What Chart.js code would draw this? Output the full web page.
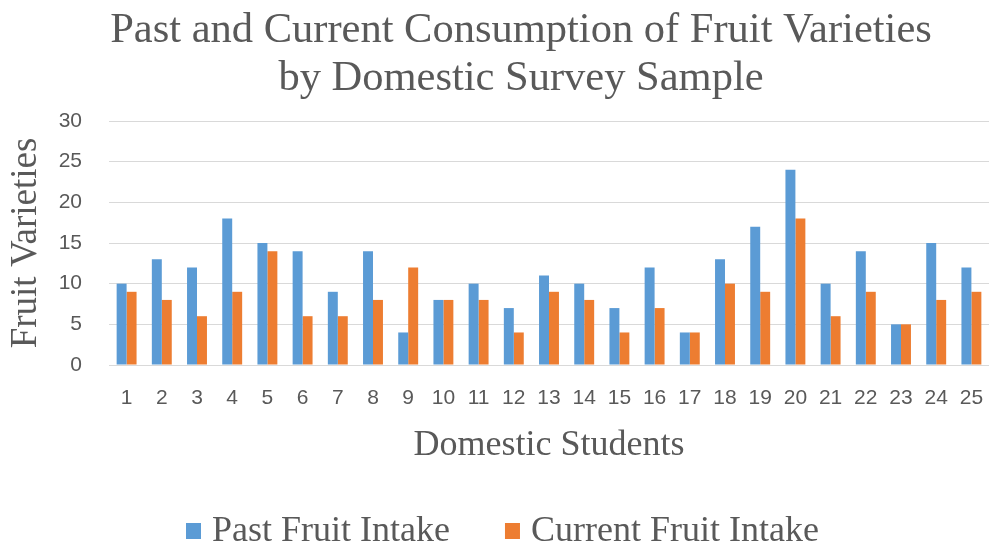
<!DOCTYPE html>
<html>
<head>
<meta charset="utf-8">
<script src="https://cdn.jsdelivr.net/npm/chart.js@4/dist/chart.umd.min.js"></script>
<style>
  html, body { margin: 0; padding: 0; background: #ffffff; }
  #wrap { width: 989px; height: 548px; position: relative; overflow: hidden; }
</style>
</head>
<body>
<div id="wrap"><canvas id="chart"></canvas></div>
<script>
// Students 1..25
const students = ['1','2','3','4','5','6','7','8','9','10','11','12','13','14','15','16','17','18','19','20','21','22','23','24','25'];
// Number of fruit varieties per student
const pastIntake    = [10, 13, 12, 18, 15, 14, 9, 14, 4, 8, 10, 7, 11, 10, 7, 12, 4, 13, 17, 24, 10, 14, 5, 15, 12];
const currentIntake = [9, 8, 6, 9, 14, 6, 6, 8, 12, 8, 8, 4, 9, 8, 4, 7, 4, 10, 9, 18, 6, 9, 5, 8, 9];
const yTicks = [0, 5, 10, 15, 20, 25, 30];

const titleLines = ['Past and Current Consumption of Fruit Varieties', 'by Domestic Survey Sample'];
const seriesNames = ['Past Fruit Intake', 'Current Fruit Intake'];
const seriesColors = ['#5B9BD5', '#ED7D31'];

const textColor = '#595959';
const serif = '"Liberation Serif", "Times New Roman", serif';
const sans = '"Liberation Sans Narrow", "Liberation Sans", Arial, sans-serif';

// Two-line chart title
const titlePlugin = {
  id: 'titleLines',
  afterDraw(chart) {
    const ctx = chart.ctx;
    ctx.save();
    ctx.fillStyle = textColor;
    ctx.font = '42.5px ' + serif;
    ctx.textAlign = 'center';
    ctx.textBaseline = 'alphabetic';
    ctx.fillText(titleLines[0], 521, 42);
    ctx.fillText(titleLines[1], 521, 90);
    ctx.restore();
  }
};

// Legend row under the axis title
const legendPlugin = {
  id: 'legendRow',
  afterDraw(chart) {
    const ctx = chart.ctx;
    ctx.save();
    ctx.font = '36px ' + serif;
    ctx.textBaseline = 'alphabetic';
    ctx.textAlign = 'left';
    const box = 15, gapBox = 11, gapItem = 55;
    const baseline = 541;
    let x = 186;
    seriesNames.forEach((name, i) => {
      ctx.fillStyle = seriesColors[i];
      ctx.fillRect(x, baseline - 18, box, box + 1);
      ctx.fillStyle = textColor;
      ctx.fillText(name, x + box + gapBox, baseline);
      x += box + gapBox + ctx.measureText(name).width + gapItem;
    });
    ctx.restore();
  }
};

new Chart(document.getElementById('chart'), {
  type: 'bar',
  data: {
    labels: students,
    datasets: [
      { label: seriesNames[0], data: pastIntake, backgroundColor: seriesColors[0], borderWidth: 0 },
      { label: seriesNames[1], data: currentIntake, backgroundColor: seriesColors[1], borderWidth: 0 }
    ]
  },
  options: {
    responsive: true,
    maintainAspectRatio: false,
    animation: false,
    events: [],
    layout: { padding: { top: 121, left: 0, right: -3, bottom: 73 } },
    datasets: { bar: { categoryPercentage: 0.566, barPercentage: 1.0 } },
    plugins: {
      legend: { display: false },
      title: { display: false },
      tooltip: { enabled: false }
    },
    scales: {
      x: {
        grid: { display: false, drawTicks: false },
        border: { display: false },
        ticks: { color: textColor, font: { family: sans, size: 21 }, padding: 21, maxRotation: 0, autoSkip: false },
        title: { display: true, text: 'Domestic Students', color: textColor, font: { family: serif, size: 36 }, padding: { top: 0, bottom: 8 } },
        afterFit(scale) {
          scale.height = 110;
          scale.paddingLeft = 0;
          scale.paddingRight = 0;
        }
      },
      y: {
        min: 0,
        max: 30,
        afterBuildTicks(scale) { scale.ticks = yTicks.map(v => ({ value: v })); },
        grid: { color: '#D9D9D9', lineWidth: 1, drawTicks: false },
        border: { display: false },
        ticks: { color: textColor, font: { family: sans, size: 21 }, padding: 27 },
        title: { display: true, text: 'Fruit Varieties', color: textColor, font: { family: serif, size: 37 }, padding: { top: 4, bottom: 0 } },
        afterFit(scale) { scale.width = 109; }
      }
    }
  },
  plugins: [titlePlugin, legendPlugin]
});
</script>
</body>
</html>
